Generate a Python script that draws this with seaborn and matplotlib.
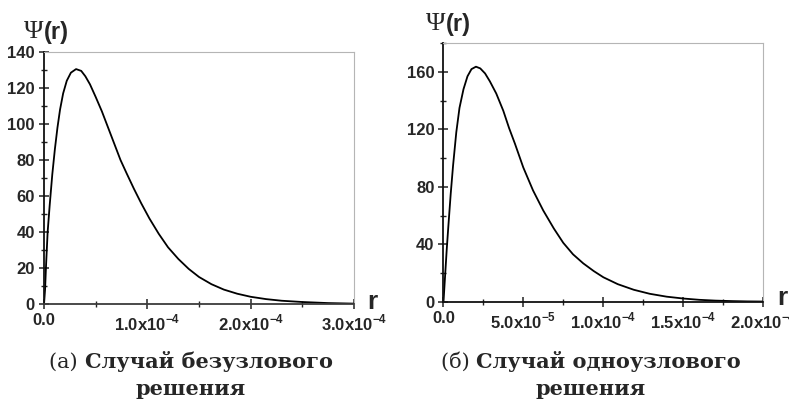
import matplotlib
matplotlib.use('Agg')

import matplotlib.pyplot as plt
import seaborn as sns
from matplotlib.ticker import MultipleLocator

# ---- data (r in units of 1e-4) ----
left_r = [0, 0.01, 0.02, 0.035, 0.055, 0.08, 0.105, 0.13, 0.155, 0.185, 0.22, 0.26,
          0.31, 0.36, 0.40, 0.445, 0.50, 0.56, 0.62, 0.68, 0.74, 0.80, 0.87, 0.94,
          1.02, 1.11, 1.20, 1.30, 1.40, 1.50, 1.62, 1.74, 1.87, 2.0, 2.15, 2.3,
          2.5, 2.75, 3.0]
left_psi = [0, 8, 22, 40, 55, 72, 86, 98, 108, 117, 124, 128.5,
            130.5, 129.5, 126.5, 122, 115, 107, 98, 89, 80, 72.5, 64, 56,
            47.5, 39, 31.5, 25, 19.5, 15, 11, 8, 5.7, 4, 2.7, 1.8,
            1.1, 0.5, 0.2]

right_r = [0, 0.01, 0.02, 0.03, 0.045, 0.06, 0.08, 0.10, 0.125, 0.15, 0.175, 0.203,
           0.23, 0.26, 0.29, 0.33, 0.374, 0.41, 0.447, 0.499, 0.56, 0.624, 0.69, 0.749,
           0.81, 0.874, 0.94, 1.0, 1.09, 1.19, 1.29, 1.395, 1.5, 1.6, 1.7, 1.81,
           1.9, 2.0]
right_psi = [0, 18, 36, 52, 75, 95, 118, 135, 148, 157, 162, 163.7,
             162.5, 159, 153.5, 145, 133, 121, 110, 93.5, 77.5, 63.5, 51, 41,
             33, 26.7, 21.3, 17, 12.2, 8.3, 5.5, 3.5, 2.2, 1.3, 0.75, 0.4,
             0.2, 0.1]

left_xticks = [0, 1e-4, 2e-4, 3e-4]
left_xlabels = ["0.0", "1.0x10$^{\\mathbf{-4}}$", "2.0x10$^{\\mathbf{-4}}$", "3.0x10$^{\\mathbf{-4}}$"]
right_xticks = [0, 5e-5, 1e-4, 1.5e-4, 2e-4]
right_xlabels = ["0.0", "5.0x10$^{\\mathbf{-5}}$", "1.0x10$^{\\mathbf{-4}}$",
                 "1.5x10$^{\\mathbf{-4}}$", "2.0x10$^{\\mathbf{-4}}$"]

captions = [("(а) ", "Случай безузлового", "решения"),
            ("(б) ", "Случай одноузлового", "решения")]

sns.set_theme(style="white")
plt.rcParams['font.family'] = ['Liberation Sans', 'DejaVu Sans']
plt.rcParams['mathtext.fontset'] = 'custom'
plt.rcParams['mathtext.rm'] = 'Liberation Sans'
plt.rcParams['mathtext.bf'] = 'Liberation Sans:bold'

W, H = 789, 403
fig = plt.figure(figsize=(W / 100, H / 100), dpi=100)
ax1 = fig.add_axes([0.0558, 0.2457, 0.3929, 0.6253])
ax2 = fig.add_axes([0.5621, 0.2514, 0.4053, 0.6412])

panels = [
    (ax1, [v * 1e-4 for v in left_r], left_psi, left_xticks, left_xlabels,
     3e-4, 140, 20, 10, 5e-5, '#3c3c3c'),
    (ax2, [v * 1e-4 for v in right_r], right_psi, right_xticks, right_xlabels,
     2e-4, 180, 40, 20, 2.5e-5, '#111111'),
]

for ax, r, psi, xt, xl, xmax, ymax, ymaj, ymin, xmin, bcol in panels:
    sns.lineplot(x=r, y=psi, ax=ax, color='black', lw=1.3)
    ax.set_xlim(0, xmax)
    ax.set_ylim(0, ymax)
    ax.set_xticks(xt, xl)
    ax.xaxis.set_minor_locator(MultipleLocator(xmin))
    ax.yaxis.set_major_locator(MultipleLocator(ymaj))
    ax.yaxis.set_minor_locator(MultipleLocator(ymin))
    ax.tick_params(which='major', direction='inout', length=7, width=1.1,
                   labelsize=12, color='#222222', pad=3)
    ax.tick_params(which='minor', direction='inout', length=5, width=1.0, color='#222222')
    ax.tick_params(axis='both', which='both', bottom=True, left=True, top=False, right=False)
    for lab in ax.get_xticklabels() + ax.get_yticklabels():
        lab.set_fontweight('bold')
    ax.spines['left'].set_color('#111111')
    ax.spines['left'].set_linewidth(1.3)
    ax.spines['bottom'].set_color(bcol)
    ax.spines['bottom'].set_linewidth(1.3)
    for s in ('top', 'right'):
        ax.spines[s].set_color('#b5b5b5')
        ax.spines[s].set_linewidth(0.8)
    ax.set_xlabel('')
    ax.set_ylabel('')

# axis titles
for x0, y0 in [(24, 32), (426, 24)]:
    fig.text(x0 / W, 1 - y0 / H, "Ψ", family=['Liberation Serif', 'DejaVu Serif'],
             fontsize=19, va='center', ha='left')
    fig.text((x0 + 20) / W, 1 - y0 / H, "(r)", fontsize=17, fontweight='bold',
             va='center', ha='left')
fig.text(367 / W, 1 - 302 / H, "r", fontsize=19, fontweight='bold', va='center', ha='left')
fig.text(777 / W, 1 - 298 / H, "r", fontsize=19, fontweight='bold', va='center', ha='left')

# captions
serif = ['DejaVu Serif']
cfs = 15
fig.canvas.draw()
rend = fig.canvas.get_renderer()
for (pre, line1, line2), cx in zip(captions, [191, 591]):
    t1 = fig.text(0, 1 - 362 / H, pre, family=serif, fontsize=cfs, ha='left', va='center')
    t2 = fig.text(0, 1 - 362 / H, line1, family=serif, fontsize=cfs,
                  fontweight='bold', ha='left', va='center')
    w1 = t1.get_window_extent(rend).width
    w2 = t2.get_window_extent(rend).width
    x_start = cx - (w1 + w2) / 2
    t1.set_x(x_start / W)
    t2.set_x((x_start + w1) / W)
    fig.text(cx / W, 1 - 389 / H, line2, family=serif, fontsize=cfs,
             fontweight='bold', ha='center', va='center')

fig.savefig('out.png', dpi=100)
